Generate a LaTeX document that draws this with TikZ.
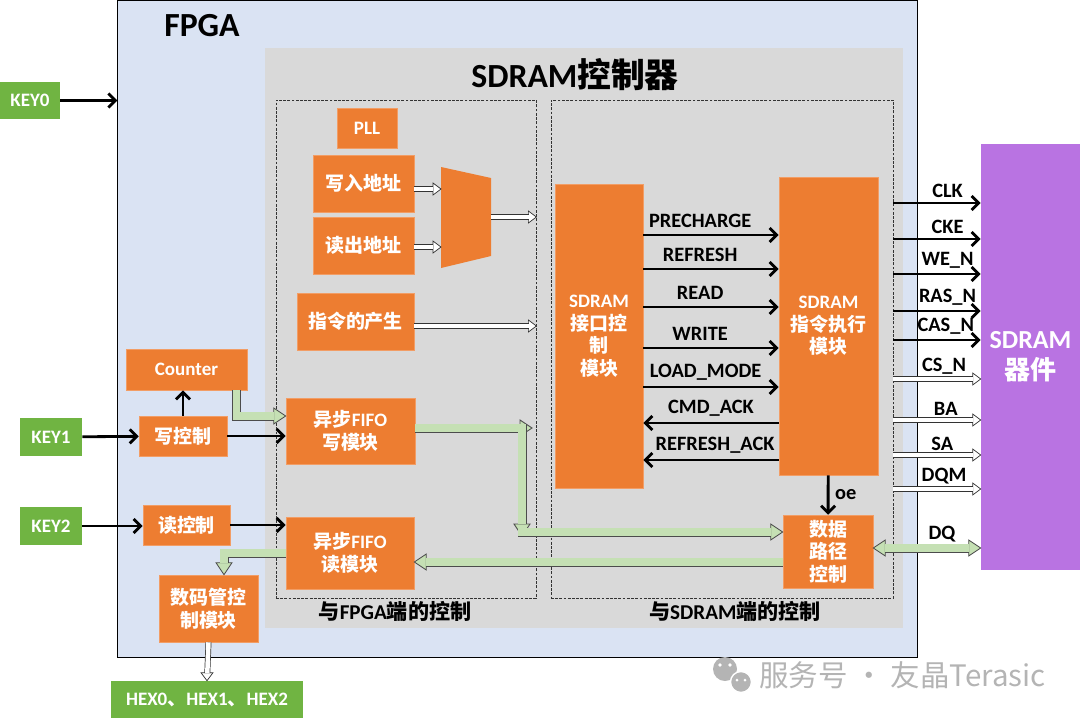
\documentclass[tikz,border=0pt]{standalone}
\usepackage{fontspec}
\setmainfont{Carlito}
\newfontfamily\cjk{Noto Sans CJK SC}
\usetikzlibrary{arrows.meta,positioning,calc}
\definecolor{fpgablue}{RGB}{218,227,243}
\definecolor{ctrlgray}{RGB}{217,217,217}
\definecolor{blockorange}{RGB}{237,125,49}
\definecolor{keygreen}{RGB}{112,180,66}
\definecolor{busgreen}{RGB}{197,224,180}
\definecolor{devpurple}{RGB}{185,115,226}
\definecolor{markgray}{RGB}{180,180,180}
\newcommand{\zh}[1]{{\cjk #1}}
\tikzset{
  bushead/.pic={\filldraw[draw=black!70, fill=busgreen, line width=0.6pt]
                (0,0) -- (-12,-8) -- (-12,8) -- cycle;},
  hollowhead/.pic={\filldraw[draw=black!80, fill=white, line width=0.5pt]
                (0,0) -- (-8,-6) -- (-8,6) -- cycle;}
}

\begin{document}
\begin{tikzpicture}[
  x=0.025cm, y=-0.025cm,
  font=\bfseries\fontsize{13.5}{16}\selectfont,
  blk/.style={rectangle, fill=blockorange, draw=blockorange!75!white, line width=0.4pt,
              text=white, align=center, inner sep=1pt},
  keybox/.style={rectangle, fill=keygreen, text=white, align=center, inner sep=1pt},
  region/.style={draw=black!80, line width=0.5pt, dash pattern=on 2pt off 1pt,
                 inner sep=0pt},
  sig/.style={-{Straight Barb[length=5pt,width=10pt]}, line width=2pt},
  lab/.style={font=\bfseries\fontsize{14.5}{16}\selectfont, inner sep=1pt},
  hollow/.style={draw=black!80, double=white, line width=0.5pt, double distance=3.2pt,
                 shorten >=5.4pt},
  bus/.style={draw=black!70, double=busgreen, line width=0.6pt, double distance=5.2pt,
              shorten >=8.2pt}
]
  \useasboundingbox (0,0) rectangle (1080,718);

  % regions
  \node[fill=fpgablue, draw=black, line width=0.8pt, inner sep=0pt,
        minimum width=19.975cm, minimum height=16.4cm] (fpga) at (517.5,329) {};
  \node[fill=ctrlgray, inner sep=0pt,
        minimum width=15.95cm, minimum height=14.5cm] (ctrl) at (584,338) {};
  \node[region, minimum width=6.5cm, minimum height=12.45cm]  (ldash) at (406,349) {};
  \node[region, minimum width=8.55cm, minimum height=12.45cm] (rdash) at (722,349) {};

  \node[font=\bfseries\fontsize{24}{26}\selectfont] (fpgatitle) at (202,26) {FPGA};
  \node[font=\bfseries\fontsize{24}{26}\selectfont] (ctrltitle) at (575,75) {SDRAM\zh{控制器}};
  \node[font=\bfseries\fontsize{15}{18}\selectfont] (ltitle) at (395,611) {\zh{与}FPGA\zh{端的控制}};
  \node[font=\bfseries\fontsize{15}{18}\selectfont] (rtitle) at (735,611) {\zh{与}SDRAM\zh{端的控制}};

  % inputs and outputs
  \node[keybox, minimum width=1.5cm,  minimum height=0.925cm] (key0) at (30,100.5) {KEY0};
  \node[keybox, minimum width=1.55cm, minimum height=0.95cm]  (key1) at (51,437) {KEY1};
  \node[keybox, minimum width=1.55cm, minimum height=0.95cm]  (key2) at (51,526) {KEY2};
  \node[keybox, minimum width=4.8cm,  minimum height=0.925cm] (hex)  at (207,699.5)
       {HEX0\zh{、}HEX1\zh{、}HEX2};
  \node[blk, fill=devpurple, draw=none, font=\bfseries\fontsize{18.5}{22}\selectfont,
        minimum width=2.475cm, minimum height=10.65cm] (dev) at (1030.5,357) {SDRAM\\\zh{器件}};

  % FPGA side
  \node[blk, minimum width=3.025cm, minimum height=1.025cm] (counter) at (186.5,369.5) {Counter};
  \node[blk, minimum width=2.2cm,   minimum height=1cm]     (wctrl)  at (183,436)   {\zh{写控制}};
  \node[blk, minimum width=2.175cm, minimum height=1cm]     (rctrl)  at (186.5,525) {\zh{读控制}};
  \node[blk, minimum width=3.225cm, minimum height=1.65cm]  (fifow)  at (350.5,431) {\zh{异步}FIFO\\\zh{写模块}};
  \node[blk, minimum width=3.2cm,   minimum height=1.8cm]   (fifor)  at (350,553)   {\zh{异步}FIFO\\\zh{读模块}};
  \node[blk, minimum width=2.475cm, minimum height=1.675cm] (hexctl) at (208.5,608.5) {\zh{数码管控}\\\zh{制模块}};
  \node[blk, minimum width=1.5cm,   minimum height=1cm]     (pll)    at (367,128)   {PLL};
  \node[blk, minimum width=2.525cm, minimum height=1.425cm] (waddr)  at (363.5,183.5) {\zh{写入地址}};
  \node[blk, minimum width=2.525cm, minimum height=1.425cm] (raddr)  at (363.5,245.5) {\zh{读出地址}};
  \node[blk, minimum width=2.925cm, minimum height=1.425cm] (cmdgen) at (355.5,321.5) {\zh{指令的产生}};
  \fill[blockorange] (441,167) -- (491,178) -- (491,256) -- (441,268) -- cycle;
  \coordinate (muxa) at (441,189);
  \coordinate (muxb) at (441,247);
  \coordinate (muxo) at (491,217);

  % SDRAM side
  \node[blk, minimum width=2.2cm,   minimum height=7.6cm]   (ifc) at (599,336)   {SDRAM\\\zh{接口控}\\\zh{制}\\\zh{模块}};
  \node[blk, minimum width=2.475cm, minimum height=7.45cm]  (exe) at (828.5,326) {SDRAM\\\zh{指令执行}\\\zh{模块}};
  \node[blk, minimum width=2.25cm,  minimum height=1.825cm] (dp)  at (828,551.5) {\zh{数据}\\\zh{路径}\\\zh{控制}};

  % control arrows
  \draw[sig] (key0) -- (key0 -| fpga.west);
  \draw[sig] (key1) -- (wctrl);
  \draw[sig] (key2) -- (key2 -| rctrl.west);
  \draw[sig] (wctrl) -- (wctrl |- counter.south);
  \draw[sig] (wctrl.east) -- (fifow.west |- wctrl.east);
  \draw[sig] (rctrl.east) -- (fifor.west |- rctrl.east);

  \draw[sig] (ifc.east |- 0,235) -- node[lab, above=3pt, pos=0.42] {PRECHARGE}   (exe.west |- 0,235);
  \draw[sig] (ifc.east |- 0,269) -- node[lab, above=3pt, pos=0.42] {REFRESH}     (exe.west |- 0,269);
  \draw[sig] (ifc.east |- 0,307) -- node[lab, above=3pt, pos=0.42] {READ}        (exe.west |- 0,307);
  \draw[sig] (ifc.east |- 0,348) -- node[lab, above=3pt, pos=0.42] {WRITE}       (exe.west |- 0,348);
  \draw[sig] (ifc.east |- 0,387) -- node[lab, above=3pt, pos=0.46] {LOAD\_MODE}  (exe.west |- 0,387);
  \draw[sig] (exe.west |- 0,423) -- node[lab, above=3pt, pos=0.5]  {CMD\_ACK}    (ifc.east |- 0,423);
  \draw[sig] (exe.west |- 0,460) -- node[lab, above=3pt, pos=0.47] {REFRESH\_ACK} (ifc.east |- 0,460);
  \draw[sig] (exe) -- node[lab, right=3pt] {oe} (dp);

  \draw[sig] (rdash.east |- 0,203) -- node[lab, above=2pt, pos=0.62] {CLK}    (dev.west |- 0,203);
  \draw[sig] (rdash.east |- 0,239) -- node[lab, above=2pt, pos=0.62] {CKE}    (dev.west |- 0,239);
  \draw[sig] (rdash.east |- 0,274) -- node[lab, above=2pt, pos=0.62] {WE\_N}  (dev.west |- 0,274);
  \draw[sig] (rdash.east |- 0,311) -- node[lab, above=2pt, pos=0.62] {RAS\_N} (dev.west |- 0,311);
  \draw[sig] (rdash.east |- 0,340) -- node[lab, above=2pt, pos=0.6]  {CAS\_N} (dev.west |- 0,340);

  % hollow buses
  \pic at (muxa) {hollowhead};
  \draw[hollow] (waddr.east |- muxa) -- (muxa);
  \pic at (muxb) {hollowhead};
  \draw[hollow] (raddr.east |- muxb) -- (muxb);
  \pic at (ldash.east |- muxo) {hollowhead};
  \draw[hollow] (muxo) -- (ldash.east |- muxo);
  \pic at (ldash.east |- 0,326) {hollowhead};
  \draw[hollow] (cmdgen.east |- 0,326) -- (ldash.east |- 0,326);
  \pic at (dev.west |- 0,379) {hollowhead};
  \draw[hollow] (rdash.east |- 0,379) -- node[lab, above=2pt, pos=0.58] {CS\_N} (dev.west |- 0,379);
  \pic at (dev.west |- 0,420) {hollowhead};
  \draw[hollow] (rdash.east |- 0,420) -- node[lab, above=2pt, pos=0.6]  {BA}    (dev.west |- 0,420);
  \pic at (dev.west |- 0,455) {hollowhead};
  \draw[hollow] (rdash.east |- 0,455) -- node[lab, above=2pt, pos=0.56] {SA}    (dev.west |- 0,455);
  \pic at (dev.west |- 0,489) {hollowhead};
  \draw[hollow] (rdash.east |- 0,489) -- node[lab, above=2pt, pos=0.58] {DQM}   (dev.west |- 0,489);
  \pic[rotate=-90] at (hex.north) {hollowhead};
  \draw[hollow] (hexctl.south) -- (hex.north);

  % green data buses
  \coordinate (bendA) at (522,428);
  \coordinate (bendB) at (522,532);
  \pic at (fifow.west |- 0,416) {bushead};
  \draw[bus] (counter.south east) ++(-11,0) |- (fifow.west |- 0,416);
  \pic at (532,428) {bushead};
  \draw[bus] (fifow.east |- bendA) -- (532,428);
  \pic[rotate=-90] at (522,536) {bushead};
  \draw[bus] (bendA) ++(0,-4) -- (522,536);
  \pic at (dp.west |- bendB) {bushead};
  \draw[bus] (bendB) ++(-4,0) -- (dp.west |- bendB);
  \pic[rotate=180] at (fifor.east |- 0,562) {bushead};
  \draw[bus] (dp.west |- 0,562) -- (fifor.east |- 0,562);
  \pic[rotate=-90] at (hexctl.north -| 224,0) {bushead};
  \draw[bus] (fifor.west |- 0,553) -| (hexctl.north -| 224,0);
  \pic[rotate=180] at (dp.east |- 0,548) {bushead};
  \pic at (dev.west |- 0,548) {bushead};
  \draw[bus, shorten <=8.2pt] (dp.east |- 0,548) -- node[lab, above=3pt, pos=0.64] {DQ} (dev.west |- 0,548);

  % watermark
  \fill[markgray] (725,669) circle (12);
  \fill[markgray, draw=white, line width=1pt] (741,682) circle (10.5);
  \fill[white] (720,665) circle (1.8) (730,665) circle (1.8)
               (737,680) circle (1.5) (745,680) circle (1.5);
  \node[font=\cjk\fontsize{21}{24}\selectfont, text=markgray, anchor=west, inner sep=0pt]
       (mark) at (759,675) {服务号 · 友晶Terasic};
\end{tikzpicture}
\end{document}
